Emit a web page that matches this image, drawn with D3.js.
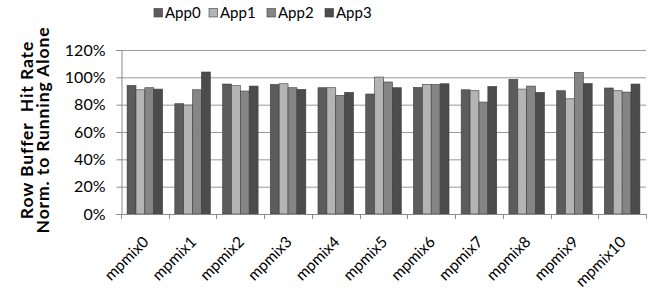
<!DOCTYPE html>
<html>
<head>
<meta charset="utf-8">
<script src="https://cdn.jsdelivr.net/npm/d3@7"></script>
<style>
  body { margin: 0; background: #fff; }
  text { font-family: Lato, "Open Sans", sans-serif; fill: #000; }
</style>
</head>
<body>
<script>
const width = 662, height = 293;

const mixes = ["mpmix0","mpmix1","mpmix2","mpmix3","mpmix4","mpmix5","mpmix6","mpmix7","mpmix8","mpmix9","mpmix10"];
const apps = ["App0","App1","App2","App3"];
const app0 = [94.1, 80.7, 95.1, 94.8, 92.4, 87.8, 92.6, 90.9, 98.5, 90.2, 92.2];
const app1 = [90.9, 79.7, 93.9, 95.3, 92.4, 100.2, 94.8, 90.2, 91.4, 84.3, 90.2];
const app2 = [92.4, 90.9, 90.0, 92.4, 86.8, 96.6, 94.8, 81.9, 93.6, 103.6, 89.2];
const app3 = [91.4, 103.9, 93.6, 91.2, 89.0, 92.4, 95.3, 93.3, 89.0, 95.5, 95.1];
const yTicks = [0, 20, 40, 60, 80, 100, 120];
const colors = ["#5c5c5c", "#b4b4b4", "#858585", "#4c4c4c"];

const series = [app0, app1, app2, app3];

const margin = {left: 121, right: 16, top: 50, bottom: 79};

const svg = d3.select("body").append("svg")
    .attr("width", width)
    .attr("height", height);

const x = d3.scaleBand()
    .domain(mixes)
    .range([margin.left, width - margin.right])
    .paddingInner(0.255)
    .paddingOuter(0.1275);

const xOuter = d3.scaleBand()
    .domain(mixes)
    .range([margin.left, width - margin.right]);

const xApp = d3.scaleBand()
    .domain(apps)
    .range([0, x.bandwidth()]);

const y = d3.scaleLinear()
    .domain([0, 120])
    .range([height - margin.bottom, margin.top]);

// gridlines
svg.append("g")
  .selectAll("line")
  .data(yTicks.filter(d => d > 0))
  .enter().append("line")
    .attr("x1", margin.left)
    .attr("x2", width - margin.right)
    .attr("y1", d => y(d) + 0.5)
    .attr("y2", d => y(d) + 0.5)
    .attr("stroke", "#9a9a9a")
    .attr("stroke-width", 1);

// bars
const groups = svg.append("g")
  .selectAll("g")
  .data(mixes)
  .enter().append("g")
    .attr("transform", d => `translate(${x(d)},0)`);

groups.selectAll("rect")
  .data((d, i) => apps.map((a, j) => ({app: a, j: j, v: series[j][i]})))
  .enter().append("rect")
    .attr("x", d => xApp(d.app))
    .attr("y", d => y(d.v))
    .attr("width", xApp.bandwidth())
    .attr("height", d => y(0) - y(d.v))
    .attr("fill", d => colors[d.j])
    .attr("stroke", "#3c3c3c")
    .attr("stroke-width", 0.6);

// y axis
const yAxis = d3.axisLeft(y)
    .tickValues(yTicks)
    .tickFormat(d => d + "%")
    .tickSize(5)
    .tickPadding(11);

const gy = svg.append("g")
    .attr("transform", `translate(${margin.left + 0.5},0)`)
    .call(yAxis);
gy.select(".domain").attr("stroke", "#8a8a8a");
gy.selectAll(".tick line").attr("stroke", "#8a8a8a");
gy.selectAll(".tick text")
    .style("font-size", "16px")
    .attr("fill", "#000");

// x axis line and boundary ticks
const gx = svg.append("g");
gx.append("line")
    .attr("x1", margin.left)
    .attr("x2", width - margin.right)
    .attr("y1", y(0) + 0.5)
    .attr("y2", y(0) + 0.5)
    .attr("stroke", "#8a8a8a");
gx.selectAll(".xt")
  .data(mixes.map(d => xOuter(d)).concat([width - margin.right]))
  .enter().append("line")
    .attr("class", "xt")
    .attr("x1", d => Math.round(d) + 0.5)
    .attr("x2", d => Math.round(d) + 0.5)
    .attr("y1", y(0))
    .attr("y2", y(0) + 5)
    .attr("stroke", "#8a8a8a");

gx.selectAll("text")
  .data(mixes)
  .enter().append("text")
    .attr("transform", d => `translate(${xOuter(d) + xOuter.bandwidth() / 2 + 1},${y(0) + 25}) rotate(-45)`)
    .attr("text-anchor", "end")
    .attr("dy", "0.35em")
    .style("font-size", "15.5px")
    .text(d => d);

// y title
const yt = svg.append("text")
    .attr("transform", `translate(33,130) rotate(-90)`)
    .attr("text-anchor", "middle")
    .style("font-size", "17.5px")
    .style("font-weight", "bold")
    .style("letter-spacing", "0.9px")
    .style("white-space", "pre");
yt.append("tspan").attr("x", 0).attr("dy", 0).text("Row Buffer  Hit Rate");
yt.append("tspan").attr("x", 0).attr("dy", 15.5).text("Norm. to Running Alone");

// legend
const legX = [154, 209, 267, 325];
const leg = svg.append("g")
  .selectAll("g")
  .data(apps)
  .enter().append("g")
    .attr("transform", (d, i) => `translate(${legX[i]},8.5)`);
leg.append("rect")
    .attr("width", 8.5)
    .attr("height", 8.5)
    .attr("fill", (d, i) => colors[i])
    .attr("stroke", "#3c3c3c")
    .attr("stroke-width", 0.6);
leg.append("text")
    .attr("x", 11)
    .attr("y", 4.5)
    .attr("dy", "0.35em")
    .style("font-size", "15px")
    .text(d => d);
</script>
</body>
</html>
